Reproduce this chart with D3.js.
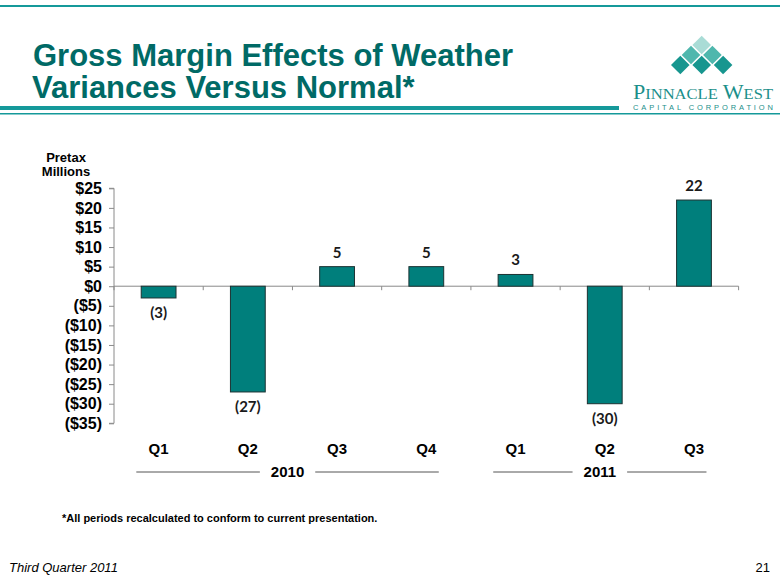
<!DOCTYPE html>
<html><head><meta charset="utf-8">
<script src="https://cdn.jsdelivr.net/npm/d3@7"></script>
<style>
html,body{margin:0;padding:0;background:#fff;}
svg{display:block;}
</style></head>
<body>
<script>
const categories = ["Q1","Q2","Q3","Q4","Q1","Q2","Q3"];
const values = [-3,-27,5,5,3,-30,22];
const valueLabels = ["(3)","(27)","5","5","3","(30)","22"];
const yTicks = [25,20,15,10,5,0,-5,-10,-15,-20,-25,-30,-35];
const years = [{label:"2010", from:0, to:3},{label:"2011", from:4, to:6}];

const W=780,H=585;
const svg=d3.select("body").append("svg").attr("width",W).attr("height",H);
const teal="#15999A", titleCol="#006A66";

// header rules
svg.append("rect").attr("x",0).attr("y",5).attr("width",W).attr("height",2).attr("fill",teal);
svg.append("rect").attr("x",0).attr("y",106).attr("width",619).attr("height",4).attr("fill",teal);
svg.append("rect").attr("x",0).attr("y",113).attr("width",W).attr("height",1.5).attr("fill",teal);

// title
const title=svg.append("text").attr("font-family","Liberation Sans, Arial, sans-serif")
  .attr("font-weight","bold").attr("font-size",31).attr("fill",titleCol);
title.append("tspan").attr("x",33).attr("y",66).text("Gross Margin Effects of Weather");
title.append("tspan").attr("x",32).attr("y",98).text("Variances Versus Normal*");

// logo
const logo=svg.append("g");
const dia=[[701.7,45,"#a9dcd6"],[691,55,"#4fb7ad"],[712.4,55,"#4fb7ad"],[680.3,65,"#17968f"],[701.7,65,"#17968f"],[723.1,65,"#17968f"]];
dia.forEach(([cx,cy,c])=>{
  const r=9.3;
  logo.append("path").attr("d",`M${cx},${cy-r}L${cx+r},${cy}L${cx},${cy+r}L${cx-r},${cy}Z`).attr("fill",c);
});
const pw=logo.append("text").attr("x",633).attr("y",99).attr("font-family","Liberation Serif, serif")
  .attr("fill","#1a8f8a").attr("textLength",140).attr("lengthAdjust","spacingAndGlyphs");
pw.append("tspan").attr("font-size",20).text("P");
pw.append("tspan").attr("font-size",15).text("INNACLE");
pw.append("tspan").attr("font-size",20).text(" W");
pw.append("tspan").attr("font-size",15).text("EST");
logo.append("text").attr("x",633).attr("y",110).attr("font-family","Liberation Sans, Arial, sans-serif")
  .attr("font-size",7.5).attr("fill","#1a8f8a").attr("textLength",140).attr("lengthAdjust","spacing")
  .text("CAPITAL CORPORATION");

// chart
const x0=114, x1=738.6, yTop=188.3, yBot=423.3;
const x=d3.scaleBand().domain(d3.range(categories.length)).range([x0,x1]).padding(0);
const y=d3.scaleLinear().domain([-35,25]).range([yBot,yTop]);
const bw=x.bandwidth()*0.39;

// y axis
const yAxis=svg.append("g").attr("transform",`translate(${x0},0)`)
  .call(d3.axisLeft(y).tickValues(yTicks).tickSize(5).tickPadding(7)
    .tickFormat(d=>d<0?`($${-d})`:`$${d}`));
yAxis.select(".domain").attr("stroke","#8a8a8a").attr("d",`M-5,${yTop}H0V${yBot}H-5`);
yAxis.selectAll(".tick line").attr("stroke","#8a8a8a");
yAxis.selectAll(".tick text").attr("font-family","Liberation Sans, Arial, sans-serif")
  .attr("font-weight","bold").attr("font-size",16).attr("fill","#000");

// zero line with category ticks
svg.append("line").attr("x1",x0).attr("x2",x1).attr("y1",y(0)).attr("y2",y(0)).attr("stroke","#8a8a8a").attr("stroke-width",1);
svg.append("g").selectAll("line").data(d3.range(categories.length+1)).join("line")
  .attr("x1",i=>x0+i*x.step()).attr("x2",i=>x0+i*x.step())
  .attr("y1",y(0)).attr("y2",y(0)+4).attr("stroke","#8a8a8a");

// bars
svg.append("g").selectAll("rect").data(values).join("rect")
  .attr("x",(d,i)=>x(i)+x.bandwidth()/2-bw/2).attr("width",bw)
  .attr("y",d=>y(Math.max(0,d))).attr("height",d=>Math.abs(y(d)-y(0)))
  .attr("fill","#007F7C").attr("stroke","#1c3232").attr("stroke-width",1);

// value labels
svg.append("g").selectAll("text").data(values).join("text")
  .attr("x",(d,i)=>x(i)+x.bandwidth()/2)
  .attr("y",d=>d>=0?y(d)-9:y(d)+20)
  .attr("text-anchor","middle").attr("font-family","Lato, Open Sans, sans-serif")
  .attr("font-weight","bold").attr("font-size",15).attr("fill","#1a1a1a")
  .text((d,i)=>valueLabels[i]);

// category labels
svg.append("g").selectAll("text").data(categories).join("text")
  .attr("x",(d,i)=>x(i)+x.bandwidth()/2).attr("y",454)
  .attr("text-anchor","middle").attr("font-family","Liberation Sans, Arial, sans-serif")
  .attr("font-weight","bold").attr("font-size",15).attr("fill","#000").text(d=>d);

// year groups
years.forEach(g=>{
  const s=x(g.from)+0.25*x.step(), e=x(g.to)+x.step()-0.36*x.step();
  const cx=(s+e)/2;
  const t=svg.append("text").attr("x",cx).attr("y",477).attr("text-anchor","middle")
    .attr("font-family","Liberation Sans, Arial, sans-serif").attr("font-weight","bold")
    .attr("font-size",15).attr("fill","#000").text(g.label);
  const tw=t.node().getComputedTextLength();
  svg.append("line").attr("x1",s).attr("x2",cx-tw/2-11).attr("y1",472).attr("y2",472).attr("stroke","#555").attr("stroke-width",1);
  svg.append("line").attr("x1",cx+tw/2+11).attr("x2",e).attr("y1",472).attr("y2",472).attr("stroke","#555").attr("stroke-width",1);
});

// axis title
const at=svg.append("text").attr("text-anchor","middle").attr("font-family","Liberation Sans, Arial, sans-serif")
  .attr("font-weight","bold").attr("font-size",13).attr("fill","#000");
at.append("tspan").attr("x",66).attr("y",162).text("Pretax");
at.append("tspan").attr("x",66).attr("y",176).text("Millions");

// footnote & footer
svg.append("text").attr("x",62).attr("y",522).attr("font-family","Liberation Sans, Arial, sans-serif")
  .attr("font-weight","bold").attr("font-size",11).attr("fill","#000")
  .text("*All periods recalculated to conform to current presentation.");
svg.append("text").attr("x",9).attr("y",572).attr("font-family","Liberation Sans, Arial, sans-serif")
  .attr("font-style","italic").attr("font-size",13).attr("fill","#000").text("Third Quarter 2011");
svg.append("text").attr("x",770).attr("y",572).attr("text-anchor","end").attr("font-family","Liberation Sans, Arial, sans-serif")
  .attr("font-size",13).attr("fill","#000").text("21");
</script>
</body></html>
